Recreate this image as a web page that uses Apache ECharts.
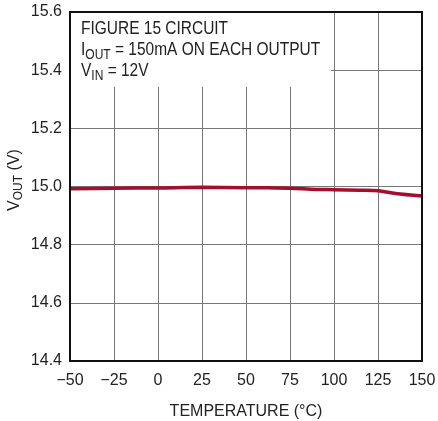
<!DOCTYPE html>
<html><head><meta charset="utf-8">
<script src="https://cdn.jsdelivr.net/npm/echarts@6/dist/echarts.min.js"></script>
<style>html,body{margin:0;padding:0;background:#fff}#c{width:438px;height:421px}</style>
</head><body><div id="c"></div>
<script>
const temps = [-50, -25, 0, 25, 50, 62, 75, 90, 100, 115, 125, 135, 150];
const vout  = [14.992, 14.994, 14.995, 14.997, 14.996, 14.996, 14.994, 14.990, 14.989, 14.987, 14.985, 14.976, 14.967];
const xTicks = [-50, -25, 0, 25, 50, 75, 100, 125, 150];
const yTicks = [14.4, 14.6, 14.8, 15.0, 15.2, 15.4, 15.6];
const F = '"Liberation Sans", Arial, sans-serif';
const chart = echarts.init(document.getElementById('c'));
chart.setOption({
  animation: false,
  grid: {left: 70, top: 12, right: 16, bottom: 60, containLabel: false, outerBoundsMode: 'none'},
  xAxis: {
    type: 'value', min: -50, max: 150, interval: 25,
    axisLine: {show: false}, axisTick: {show: false},
    axisLabel: {fontFamily: F, fontSize: 16, color: '#222', margin: 12,
      formatter: v => (v < 0 ? '\u2212' + Math.abs(v) : String(v))},
    splitLine: {show: true, lineStyle: {color: '#777', width: 1}},
    name: 'TEMPERATURE (\u00B0C)', nameLocation: 'middle', nameGap: 43,
    nameTextStyle: {fontFamily: F, fontSize: 16, color: '#222'}
  },
  yAxis: {
    type: 'value', min: 14.4, max: 15.6, interval: 0.2,
    axisLine: {show: false}, axisTick: {show: false},
    axisLabel: {fontFamily: F, fontSize: 16, color: '#222', margin: 8,
      formatter: v => v.toFixed(1)},
    splitLine: {show: true, lineStyle: {color: '#777', width: 1}}
  },
  series: [{
    type: 'line', data: temps.map((t, i) => [t, vout[i]]),
    smooth: 0.3, showSymbol: false,
    lineStyle: {color: '#A3102F', width: 3.5}, z: 3
  }],
  graphic: [
    {type: 'rect', left: 70, top: 12, shape: {width: 261, height: 75}, style: {fill: '#fff'}, z: 10},
    {type: 'rect', x: 70, y: 12, shape: {x: 0, y: 0, width: 352, height: 349}, style: {fill: 'none', stroke: '#111', lineWidth: 2}, z: 11},
    {type: 'text', x: 81, y: 19, scaleX: 0.86, z: 12, style: {
      text: '{n|FIGURE 15 CIRCUIT}\n{n|I}{s|OUT}{n| = 150mA ON EACH OUTPUT}\n{n|V}{s|IN}{n| = 12V}',
      rich: {n: {fontFamily: F, fontSize: 18, fill: '#222', lineHeight: 21},
             s: {fontFamily: F, fontSize: 14, fill: '#222', lineHeight: 21, padding: [9, 0, 0, 0]}}
    }},
    {type: 'text', x: 15, y: 180, rotation: Math.PI / 2, z: 12, style: {
      text: '{n|V}{s|OUT}{n| (V)}', align: 'center', verticalAlign: 'middle',
      rich: {n: {fontFamily: F, fontSize: 16, fill: '#222'},
             s: {fontFamily: F, fontSize: 12, fill: '#222', padding: [8, 0, 0, 0]}}
    }}
  ]
});
</script></body></html>
